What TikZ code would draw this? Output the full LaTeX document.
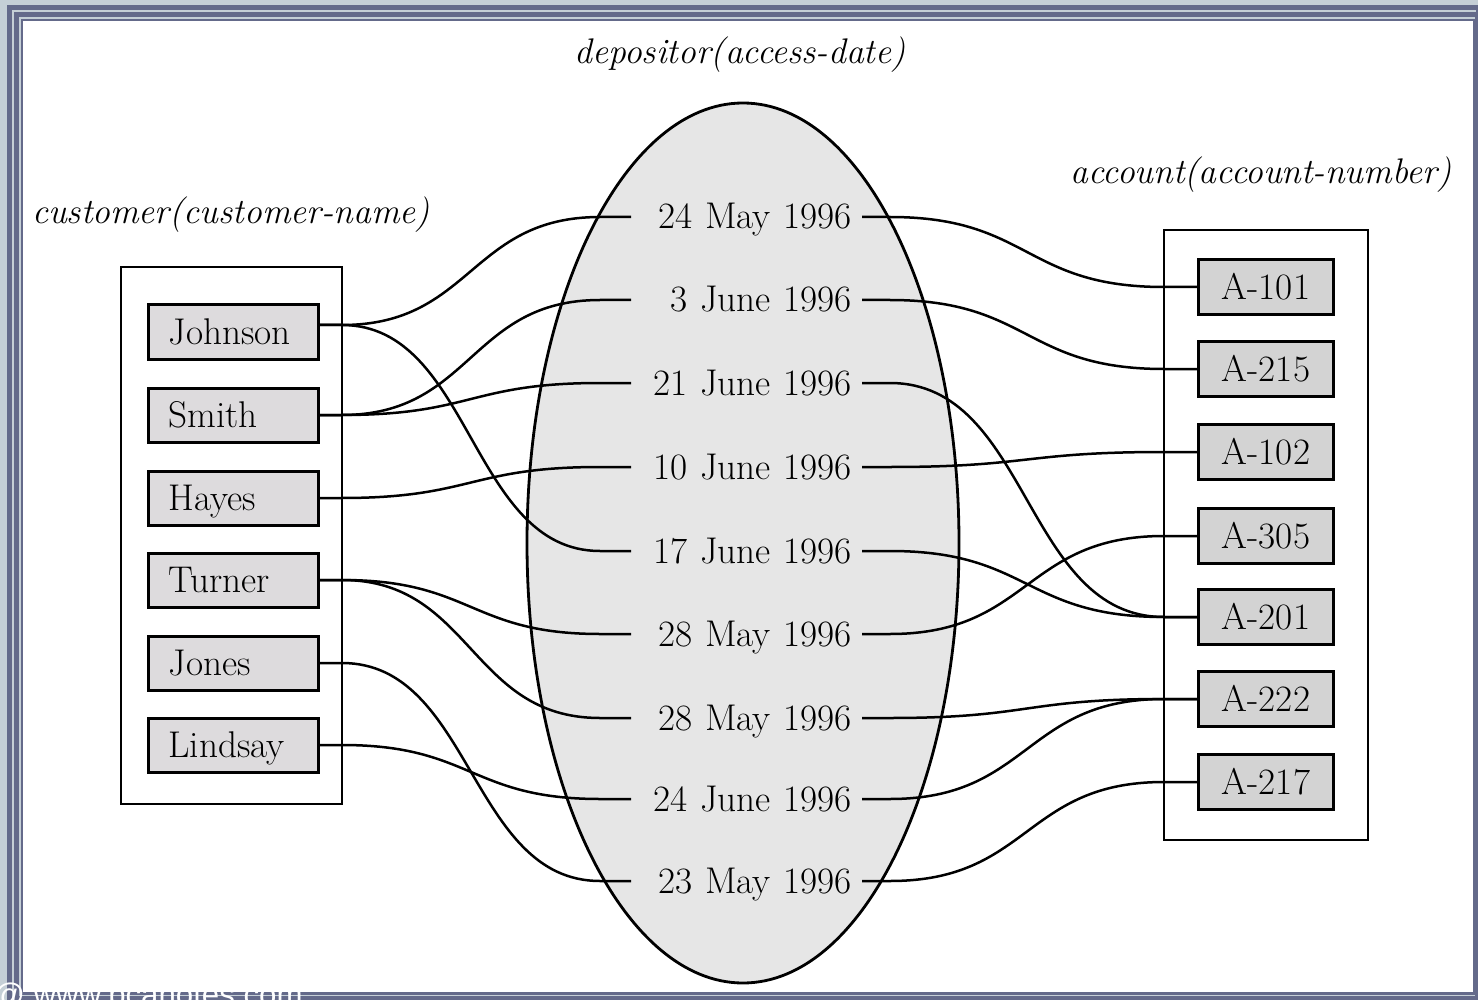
\documentclass[tikz,border=0pt]{standalone}
\usepackage{fontspec}
\newfontfamily\wmfont{Liberation Sans}
\usetikzlibrary{calc,shapes.geometric}
\definecolor{framelight}{HTML}{C5CFD6}
\definecolor{framedark}{HTML}{646A8A}
\definecolor{ellfill}{HTML}{E6E6E6}
\definecolor{custfill}{HTML}{DDDBDD}
\definecolor{accfill}{HTML}{D3D3D3}
\begin{document}
\begin{tikzpicture}[x=0.5pt,y=-0.5pt,
  every node/.style={font=\fontsize{18.6}{22}\selectfont},
  titletext/.style={font=\fontsize{17.8}{21}\selectfont\itshape, inner sep=0pt},
  group/.style={draw, line width=1.3pt, inner sep=0pt},
  cbox/.style={draw, line width=1.5pt, fill=custfill, anchor=west, text width=65pt, align=left,
    inner xsep=10pt, inner ysep=0pt, minimum height=27pt, text height=12.7pt, text depth=0pt},
  abox/.style={draw, line width=1.5pt, fill=accfill, minimum width=67.5pt, minimum height=27.5pt,
    inner sep=0pt, text height=12.2pt, text depth=0pt},
  datenode/.style={anchor=east, text width=105pt, align=right, inner xsep=5pt, inner ysep=0pt,
    text height=12pt, text depth=0pt},
  conn/.style={line width=1.25pt},
  depset/.style={ellipse, draw, line width=1.4pt, fill=ellfill, inner sep=0pt,
    minimum width=216pt, minimum height=440pt}
]
\useasboundingbox (0,0) rectangle (1478,1000);
% frame
\fill[framelight] (0,0) rectangle (1478,1000);
\fill[framedark] (7,5) rectangle (1478,1000);
\fill[framelight] (12,10) rectangle (1476,998);
\fill[framedark] (14,12) rectangle (1476,998);
\fill[framelight] (19,17) rectangle (1475,996);
\fill[framedark] (21,19) rectangle (1475,995);
\fill[white] (23,21) rectangle (1473,992);

% titles
\node[titletext] (tdep) at (740,55) {depositor(access-date)};
\node[titletext] (tcust) at (231,215) {customer(customer-name)};
\node[titletext] (tacc) at (1261,175) {account(account-number)};

% sets
\node[group, minimum width=110.5pt, minimum height=268.5pt] (custset) at (231.5,535.5) {};
\node[group, minimum width=102pt, minimum height=305pt] (accset) at (1266,535) {};
\node[depset] (depset) at (743,543) {};

% customers
\node[cbox] (johnson) at (147,332) {Johnson};
\node[cbox] (smith) at (147,415) {Smith};
\node[cbox] (hayes) at (147,498) {Hayes};
\node[cbox] (turner) at (147,580) {Turner};
\node[cbox] (jones) at (147,663) {Jones};
\node[cbox] (lindsay) at (147,745) {Lindsay};

% dates
\node[datenode] (d1) at (862,217) {24 May 1996};
\node[datenode] (d2) at (862,300) {3 June 1996};
\node[datenode] (d3) at (862,383) {21 June 1996};
\node[datenode] (d4) at (862,467) {10 June 1996};
\node[datenode] (d5) at (862,551) {17 June 1996};
\node[datenode] (d6) at (862,634) {28 May 1996};
\node[datenode] (d7) at (862,718) {28 May 1996};
\node[datenode] (d8) at (862,799) {24 June 1996};
\node[datenode] (d9) at (862,881) {23 May 1996};

% accounts
\node[abox] (a101) at (1266,287) {A-101};
\node[abox] (a215) at (1266,369) {A-215};
\node[abox] (a102) at (1266,452) {A-102};
\node[abox] (a305) at (1266,536) {A-305};
\node[abox] (a201) at (1266,617) {A-201};
\node[abox] (a222) at (1266,699) {A-222};
\node[abox] (a217) at (1266,782) {A-217};

\coordinate (lx) at (342,0);
\coordinate (ly) at (600,0);
\coordinate (rx) at (890,0);
\coordinate (ry) at (1164,0);

\newcommand\lcon[3][0]{\draw[conn] ($(#2.east)+(0,#1)$) -- ($(#2.east -| lx)+(0,#1)$)
  .. controls +(130,0) and +(-130,0) .. (#3.west -| ly) -- (#3.west);}
\newcommand\rcon[2]{\draw[conn] (#1.east) -- (#1.east -| rx)
  .. controls +(140,0) and +(-140,0) .. (#2.west -| ry) -- (#2.west);}

\lcon[-7]{johnson}{d1}
\lcon[-7]{johnson}{d5}
\lcon{smith}{d2}
\lcon{smith}{d3}
\lcon{hayes}{d4}
\lcon{turner}{d6}
\lcon{turner}{d7}
\lcon{jones}{d9}
\lcon{lindsay}{d8}

\rcon{d1}{a101}
\rcon{d2}{a215}
\rcon{d3}{a201}
\rcon{d4}{a102}
\rcon{d5}{a201}
\rcon{d6}{a305}
\rcon{d7}{a222}
\rcon{d8}{a222}
\rcon{d9}{a217}

% watermark
\node[font=\wmfont\fontsize{15.6}{18}\selectfont, text=white, anchor=base west, inner sep=0pt] (wm) at (-7,1005) {@ www.bcanotes.com};
\end{tikzpicture}
\end{document}
